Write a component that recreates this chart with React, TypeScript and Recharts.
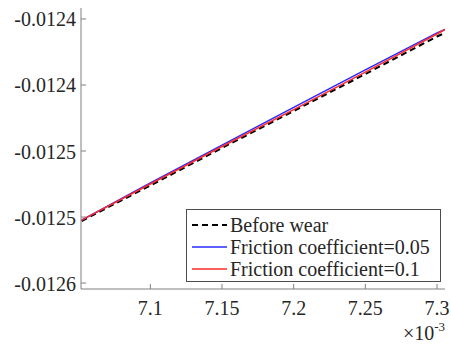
import React from 'react';
import { LineChart, Line, XAxis, YAxis, Legend } from 'recharts';

// x values are in units of 1e-3 (axis shows "x10^-3")
const xValues = [7.052, 7.1, 7.15, 7.2, 7.25, 7.3, 7.3056];
const beforeWear = [-0.012503, -0.0124761, -0.0124477, -0.0124197, -0.0123917, -0.0123633, -0.0123606];
const friction005 = [-0.0125023, -0.0124742, -0.0124455, -0.012417, -0.0123886, -0.0123606, -0.012358];
const friction01 = [-0.0125023, -0.012475, -0.0124466, -0.0124186, -0.0123902, -0.0123614, -0.012358];

const xTicks = [7.1, 7.15, 7.2, 7.25, 7.3];
const xTickLabels = ['7.1', '7.15', '7.2', '7.25', '7.3'];
const yTicks = [-0.01255, -0.0125, -0.01245, -0.0124, -0.01235];
const yTickLabels = ['-0.0126', '-0.0125', '-0.0125', '-0.0124', '-0.0124'];

const seriesNames = ['Before wear', 'Friction coefficient=0.05', 'Friction coefficient=0.1'];

const data = xValues.map((x, i) => ({
  x,
  before: beforeWear[i],
  f005: friction005[i],
  f01: friction01[i],
}));

const FONT = 'Liberation Serif';
const AXIS = '#808080';
const TEXT = '#262626';

const BottomTick = (props: any) => {
  const { x, y, index } = props;
  return (
    <g>
      <line x1={x} y1={y} x2={x} y2={y - 5} stroke={AXIS} strokeWidth={1} />
      <text x={x} y={y + 26} textAnchor="middle" fontFamily={FONT} fontSize="20px" fill={TEXT}>
        {xTickLabels[index]}
      </text>
    </g>
  );
};

const TopTick = (props: any) => {
  const { x, y } = props;
  return <line x1={x} y1={y} x2={x} y2={y + 5} stroke={AXIS} strokeWidth={1} />;
};

const LeftTick = (props: any) => {
  const { x, y, index } = props;
  return (
    <g>
      <line x1={x} y1={y} x2={x + 5} y2={y} stroke={AXIS} strokeWidth={1} />
      <text x={x - 5} y={y + 7.5} textAnchor="end" fontFamily={FONT} fontSize="20px" fill={TEXT}>
        {yTickLabels[index]}
      </text>
    </g>
  );
};

const RightTick = (props: any) => {
  const { x, y } = props;
  return <line x1={x} y1={y} x2={x - 5} y2={y} stroke={AXIS} strokeWidth={1} />;
};

const ExponentLabel = () => (
  <text x={445} y={340} textAnchor="end" fontFamily={FONT} fontSize="20px" fill={TEXT}>
    <tspan>×10</tspan>
    <tspan dy={-9} fontSize="13px">-3</tspan>
  </text>
);

const LegendBox = () => {
  const swatches = [
    { color: '#000000', dash: '6 4', width: 2 },
    { color: '#2a2aff', dash: undefined, width: 1.5 },
    { color: '#ff2a2a', dash: undefined, width: 1.5 },
  ];
  return (
    <div
      style={{
        border: '1px solid #4d4d4d',
        background: '#fff',
        padding: '4px 0 0 5px',
        boxSizing: 'border-box',
        width: 255,
        height: 73,
        fontFamily: FONT,
        fontSize: '20px',
        color: TEXT,
      }}
    >
      {seriesNames.map((name, i) => (
        <div key={name} style={{ display: 'flex', alignItems: 'center', height: 22, lineHeight: '22px', whiteSpace: 'nowrap' }}>
          <svg width={35} height={22} style={{ marginRight: 3 }}>
            <line x1={0} y1={11} x2={35} y2={11} stroke={swatches[i].color} strokeWidth={swatches[i].width} strokeDasharray={swatches[i].dash} />
          </svg>
          <span>{name}</span>
        </div>
      ))}
    </div>
  );
};

export default function App() {
  return (
    <div style={{ position: 'absolute', left: 0, top: 0, background: '#fff' }}>
      <LineChart width={451} height={344} data={data} margin={{ top: 8, right: 6, left: 0, bottom: 0 }}>
        <XAxis
          dataKey="x"
          type="number"
          domain={[7.0516, 7.3056]}
          allowDataOverflow
          ticks={xTicks}
          height={55}
          tickSize={0}
          tickMargin={0}
          tickLine={false}
          axisLine={{ stroke: AXIS, strokeWidth: 1 }}
          tick={<BottomTick />}
          interval={0}
          label={{ content: () => <ExponentLabel /> }}
        />
        <XAxis
          xAxisId="top"
          dataKey="x"
          type="number"
          orientation="top"
          domain={[7.0516, 7.3056]}
          allowDataOverflow
          ticks={xTicks}
          height={0}
          tickSize={0}
          tickMargin={0}
          tickLine={false}
          axisLine={{ stroke: AXIS, strokeWidth: 1 }}
          tick={<TopTick />}
          interval={0}
        />
        <YAxis
          type="number"
          domain={[-0.0125545, -0.0123417]}
          allowDataOverflow
          ticks={yTicks}
          width={81}
          tickSize={0}
          tickMargin={0}
          tickLine={false}
          axisLine={{ stroke: AXIS, strokeWidth: 1 }}
          tick={<LeftTick />}
          interval={0}
        />
        <YAxis
          yAxisId="right"
          orientation="right"
          type="number"
          domain={[-0.0125545, -0.0123417]}
          allowDataOverflow
          ticks={yTicks}
          width={0}
          tickSize={0}
          tickMargin={0}
          tickLine={false}
          axisLine={{ stroke: AXIS, strokeWidth: 1 }}
          tick={<RightTick />}
          interval={0}
        />
        <Line dataKey="before" name={seriesNames[0]} stroke="#000000" strokeWidth={2} strokeDasharray="6 4" dot={false} isAnimationActive={false} />
        <Line dataKey="f005" name={seriesNames[1]} stroke="#2a2aff" strokeWidth={1.5} dot={false} isAnimationActive={false} />
        <Line dataKey="f01" name={seriesNames[2]} stroke="#ff2a2a" strokeWidth={1.5} dot={false} isAnimationActive={false} />
        <Legend
          layout="horizontal"
          verticalAlign="middle"
          align="center"
          content={() => <LegendBox />}
          wrapperStyle={{ position: 'absolute', left: 186, top: 209, width: 255, height: 73 }}
        />
      </LineChart>
    </div>
  );
}
